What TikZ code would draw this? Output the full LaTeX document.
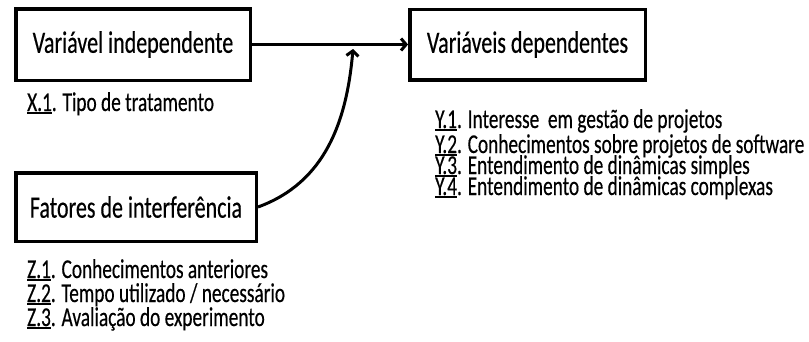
\documentclass[tikz,border=0pt]{standalone}
\usepackage{fontspec}
\setmainfont[FakeStretch=0.71, FakeBold=0.4]{Carlito}
\usetikzlibrary{arrows.meta}
\newcommand{\ulab}[1]{\setbox0\hbox{#1}\rlap{\rule[-3pt]{\wd0}{2.4pt}}\box0}
\tikzstyle{var}=[draw, line width=3.5pt, inner sep=0pt, font=\fontsize{31}{36}\selectfont]
\tikzstyle{item}=[anchor=base west, inner sep=0pt, font=\fontsize{27.2}{32}\selectfont]
\tikzstyle{effect-arrow}=[line width=3pt, -{Straight Barb[length=5pt,width=12pt]}]
\begin{document}
\begin{tikzpicture}[x=1pt,y=-1pt]
\useasboundingbox (0,0) rectangle (809,341);
\node[var, minimum width=234.5pt, minimum height=71.5pt] (varind) at (133,44.5) {Variável independente};
\node[var, minimum width=235.5pt, minimum height=70.5pt] (vardep) at (527.5,44.5) {Variáveis dependentes};
\node[var, minimum width=240.5pt, minimum height=68.5pt] (fatint) at (136,207) {Fatores de interferência};
\coordinate (join) at (353,49);
\draw[effect-arrow] (varind) to (vardep);
\draw[effect-arrow] (fatint.east) to[out=20, in=-95] (join);

\node[item] (x1) at (27,111) {\ulab{X.1}. Tipo de tratamento};
\node[item] (y1) at (435,128) {\ulab{Y.1}. Interesse\ \ em gestão de projetos};
\node[item] (y2) at (435,153) {\ulab{Y.2}. Conhecimentos sobre projetos de software};
\node[item] (y3) at (435,174) {\ulab{Y.3}. Entendimento de dinâmicas simples};
\node[item] (y4) at (435,195) {\ulab{Y.4}. Entendimento de dinâmicas complexas};
\node[item] (z1) at (27,278) {\ulab{Z.1}. Conhecimentos anteriores};
\node[item] (z2) at (27,302) {\ulab{Z.2}. Tempo utilizado / necessário};
\node[item] (z3) at (27,326) {\ulab{Z.3}. Avaliação do experimento};
\end{tikzpicture}
\end{document}
